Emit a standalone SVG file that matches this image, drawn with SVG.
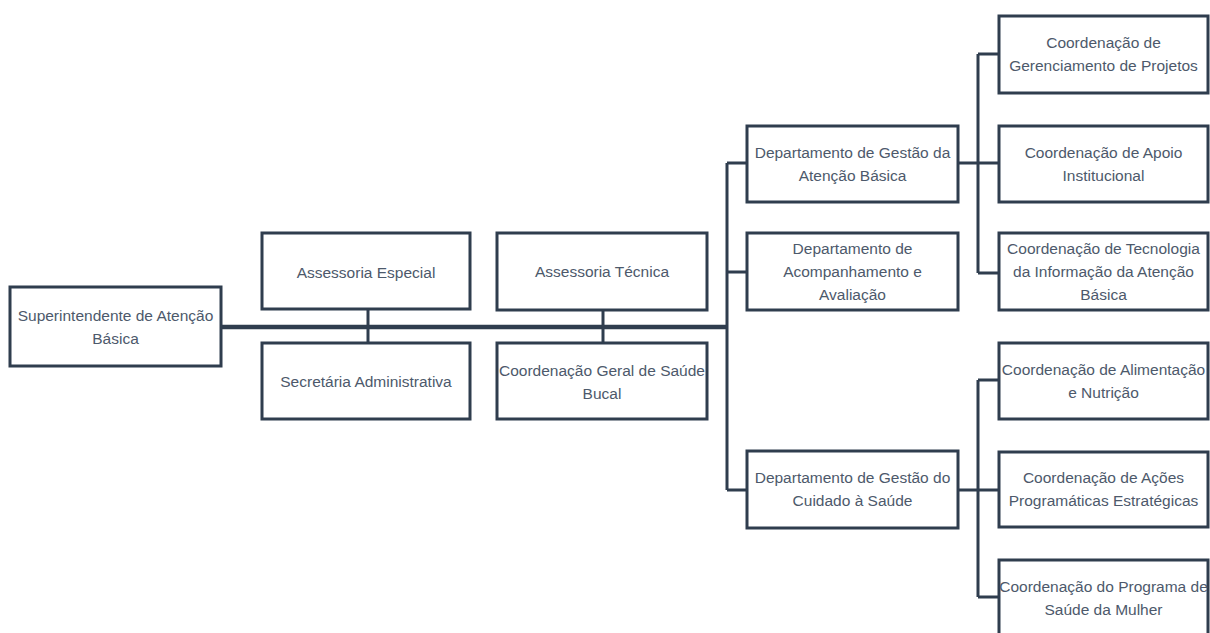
<svg xmlns="http://www.w3.org/2000/svg" width="1210" height="633" viewBox="0 0 1210 633">
<style>
.box{fill:#ffffff;stroke:#2f3d4e;stroke-width:3}
.t{font-family:"Liberation Sans",Arial,sans-serif;font-size:15.5px;fill:#4d596b;text-anchor:middle;dominant-baseline:central}
.c{fill:none;stroke:#2f3d4e;stroke-width:3}
.m{fill:none;stroke:#2f3d4e;stroke-width:4.5}
</style>
<rect width="1210" height="633" fill="#ffffff"/>
<g id="connectors">
<path class="m" d="M221 327 H727"/>
<path class="c" d="M368 309 V343"/>
<path class="c" d="M603 310 V343"/>
<path class="c" d="M727 163 V490"/>
<path class="c" d="M727 163 H747 M727 272 H747 M727 490 H747"/>
<path class="c" d="M958 163 H999 M978 54 V273 M978 54 H999 M978 273 H999"/>
<path class="c" d="M958 490 H999 M978 380 V597 M978 380 H999 M978 597 H999"/>
</g>
<g id="superintendente">
<rect class="box" x="10" y="287" width="211" height="79"/>
<text class="t" x="115.5" y="315">Superintendente de Atenção</text>
<text class="t" x="115.5" y="338">Básica</text>
</g>
<g id="assessoria-especial">
<rect class="box" x="262" y="233" width="208" height="76"/>
<text class="t" x="366" y="272">Assessoria Especial</text>
</g>
<g id="secretaria">
<rect class="box" x="262" y="343" width="208" height="76"/>
<text class="t" x="366" y="381">Secretária Administrativa</text>
</g>
<g id="assessoria-tecnica">
<rect class="box" x="497" y="233" width="210" height="77"/>
<text class="t" x="602" y="271">Assessoria Técnica</text>
</g>
<g id="coord-saude-bucal">
<rect class="box" x="497" y="343" width="210" height="76"/>
<text class="t" x="602" y="370">Coordenação Geral de Saúde</text>
<text class="t" x="602" y="393">Bucal</text>
</g>
<g id="dept-gestao-atencao">
<rect class="box" x="747" y="126" width="211" height="76"/>
<text class="t" x="852.5" y="152">Departamento de Gestão da</text>
<text class="t" x="852.5" y="175">Atenção Básica</text>
</g>
<g id="dept-acompanhamento">
<rect class="box" x="747" y="233" width="211" height="77"/>
<text class="t" x="852.5" y="248">Departamento de</text>
<text class="t" x="852.5" y="271">Acompanhamento e</text>
<text class="t" x="852.5" y="294">Avaliação</text>
</g>
<g id="dept-gestao-cuidado">
<rect class="box" x="747" y="451" width="211" height="77"/>
<text class="t" x="852.5" y="477">Departamento de Gestão do</text>
<text class="t" x="852.5" y="500">Cuidado à Saúde</text>
</g>
<g id="coord-gerenciamento">
<rect class="box" x="999" y="16" width="209" height="77"/>
<text class="t" x="1103.5" y="42">Coordenação de</text>
<text class="t" x="1103.5" y="65">Gerenciamento  de Projetos</text>
</g>
<g id="coord-apoio">
<rect class="box" x="999" y="126" width="209" height="76"/>
<text class="t" x="1103.5" y="152">Coordenação de Apoio</text>
<text class="t" x="1103.5" y="175">Institucional</text>
</g>
<g id="coord-tecnologia">
<rect class="box" x="999" y="233" width="209" height="77"/>
<text class="t" x="1103.5" y="248">Coordenação de Tecnologia</text>
<text class="t" x="1103.5" y="271">da Informação da Atenção</text>
<text class="t" x="1103.5" y="294">Básica</text>
</g>
<g id="coord-alimentacao">
<rect class="box" x="999" y="343" width="209" height="76"/>
<text class="t" x="1103.5" y="369">Coordenação de Alimentação</text>
<text class="t" x="1103.5" y="392">e Nutrição</text>
</g>
<g id="coord-acoes">
<rect class="box" x="999" y="452" width="209" height="75"/>
<text class="t" x="1103.5" y="477">Coordenação de Ações</text>
<text class="t" x="1103.5" y="500">Programáticas Estratégicas</text>
</g>
<g id="coord-mulher">
<rect class="box" x="999" y="560" width="209" height="76"/>
<text class="t" x="1103.5" y="586">Coordenação do Programa de</text>
<text class="t" x="1103.5" y="609">Saúde da Mulher</text>
</g>
</svg>
